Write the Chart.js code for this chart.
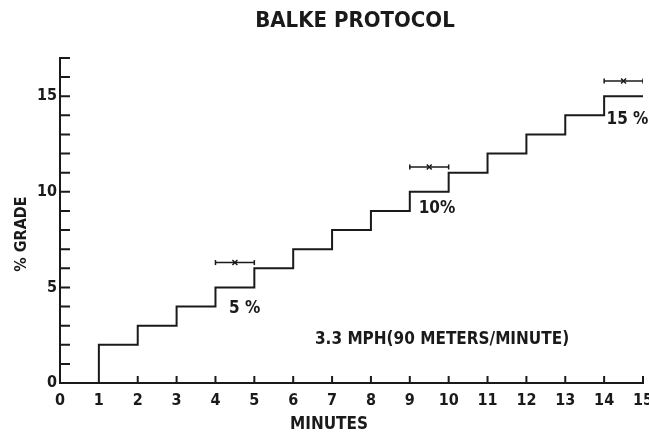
<!DOCTYPE html>
<html>
<head>
<meta charset="utf-8">
<script src="https://cdn.jsdelivr.net/npm/chart.js@4"></script>
<style>
  body { margin: 0; background: #fff; }
  #wrap { width: 649px; height: 437px; }
</style>
</head>
<body>
<div id="wrap"><canvas id="myChart"></canvas></div>
<script>
// step data: minutes vs % grade
const minutes = [1, 1, 2, 3, 4, 5, 6, 7, 8, 9, 10, 11, 12, 13, 14, 15];
const grade = [0, 2, 3, 4, 5, 6, 7, 8, 9, 10, 11, 12, 13, 14, 15, 15];

// stage markers |-x-| above the 5, 10 and 15 % steps
const stageFrom = [4, 9, 14];
const stageTo = [5, 10, 15];
const stageMarkY = [6.3, 11.3, 15.8];
const stageLabels = ['5 %', '10%', '15 %'];
const stageLabelX = [4.75, 9.7, 14.6];
const stageLabelY = [3.9, 9.1, 13.8];

const speedNote = '3.3 MPH(90 METERS/MINUTE)';
const speedNoteX = 9.83;
const speedNoteY = 2.25;

const chartTitle = 'BALKE PROTOCOL';
const xTitle = 'MINUTES';
const yTitle = '% GRADE';

const ink = '#1a1a1a';
const font = '"DejaVu Sans Condensed", "DejaVu Sans", sans-serif';

const stepPoints = minutes.map((m, i) => ({ x: m, y: grade[i] }));

const datasets = [{
  data: stepPoints,
  borderColor: ink,
  borderWidth: 2,
  stepped: 'before',
  pointRadius: 0,
  fill: false
}];
// one small dataset per marker
for (let i = 0; i < stageFrom.length; i++) {
  const mid = (stageFrom[i] + stageTo[i]) / 2;
  datasets.push({
    data: [{ x: stageFrom[i], y: stageMarkY[i] }, { x: mid, y: stageMarkY[i] }, { x: stageTo[i], y: stageMarkY[i] }],
    borderColor: ink,
    borderWidth: 1.5,
    pointStyle: ['line', 'crossRot', 'line'],
    rotation: [90, 0, 90],
    pointRadius: [2.5, 3.5, 2.5],
    pointBorderWidth: 1.5,
    pointBorderColor: ink,
    fill: false
  });
}

// inward ticks, titles and text notes
const extras = {
  id: 'extras',
  afterDraw(chart) {
    const c = chart.ctx;
    const xs = chart.scales.x, ys = chart.scales.y;
    c.save();
    c.strokeStyle = ink;
    c.lineWidth = 2;
    c.beginPath();
    for (let v = 1; v <= 17; v++) {
      const py = ys.getPixelForValue(v);
      c.moveTo(xs.left, py);
      c.lineTo(xs.left + 10, py);
    }
    for (let v = 2; v <= 15; v++) {
      const px = xs.getPixelForValue(v);
      c.moveTo(px, ys.bottom);
      c.lineTo(px, ys.bottom - 7);
    }
    c.stroke();

    c.fillStyle = ink;
    c.textAlign = 'center';
    c.textBaseline = 'middle';

    // titles
    c.font = 'bold 22px ' + font;
    c.fillText(chartTitle, 355, 21);
    c.font = 'bold 17px ' + font;
    c.fillText(xTitle, 329, 425);
    c.save();
    c.translate(22, 234);
    c.rotate(-Math.PI / 2);
    c.font = 'bold 16px ' + font;
    c.fillText(yTitle, 0, 0);
    c.restore();

    c.font = 'bold 17px ' + font;
    for (let i = 0; i < stageLabels.length; i++) {
      c.fillText(stageLabels[i], xs.getPixelForValue(stageLabelX[i]), ys.getPixelForValue(stageLabelY[i]));
    }
    c.fillText(speedNote, xs.getPixelForValue(speedNoteX), ys.getPixelForValue(speedNoteY));
    c.restore();
  }
};

const ctx = document.getElementById('myChart');
const myChart = new Chart(ctx, {
  type: 'line',
  data: { datasets: datasets },
  options: {
    responsive: true,
    maintainAspectRatio: false,
    animation: false,
    layout: { padding: { left: 8, right: 6, top: 58, bottom: 0 } },
    plugins: {
      legend: { display: false },
      tooltip: { enabled: false },
      title: { display: false }
    },
    scales: {
      x: {
        type: 'linear',
        min: 0,
        max: 15,
        border: { color: ink, width: 2 },
        grid: { display: false, drawTicks: false },
        ticks: {
          stepSize: 1,
          color: ink,
          padding: 8,
          maxRotation: 0,
          autoSkip: false,
          font: { family: font, size: 16, weight: 'bold' }
        },
        afterFit(scale) {
          scale.height = 54;
          scale.paddingLeft = 0;
          scale.paddingRight = 0;
        }
      },
      y: {
        type: 'linear',
        min: 0,
        max: 17,
        border: { color: ink, width: 2 },
        grid: { display: false, drawTicks: false },
        ticks: {
          stepSize: 1,
          color: ink,
          padding: 3,
          autoSkip: false,
          font: { family: font, size: 16, weight: 'bold' },
          callback: (v) => (v % 5 === 0 ? v : '')
        },
        afterFit(scale) {
          scale.width = 52;
          scale.paddingTop = 0;
          scale.paddingBottom = 0;
        }
      }
    }
  },
  plugins: [extras]
});
</script>
</body>
</html>
